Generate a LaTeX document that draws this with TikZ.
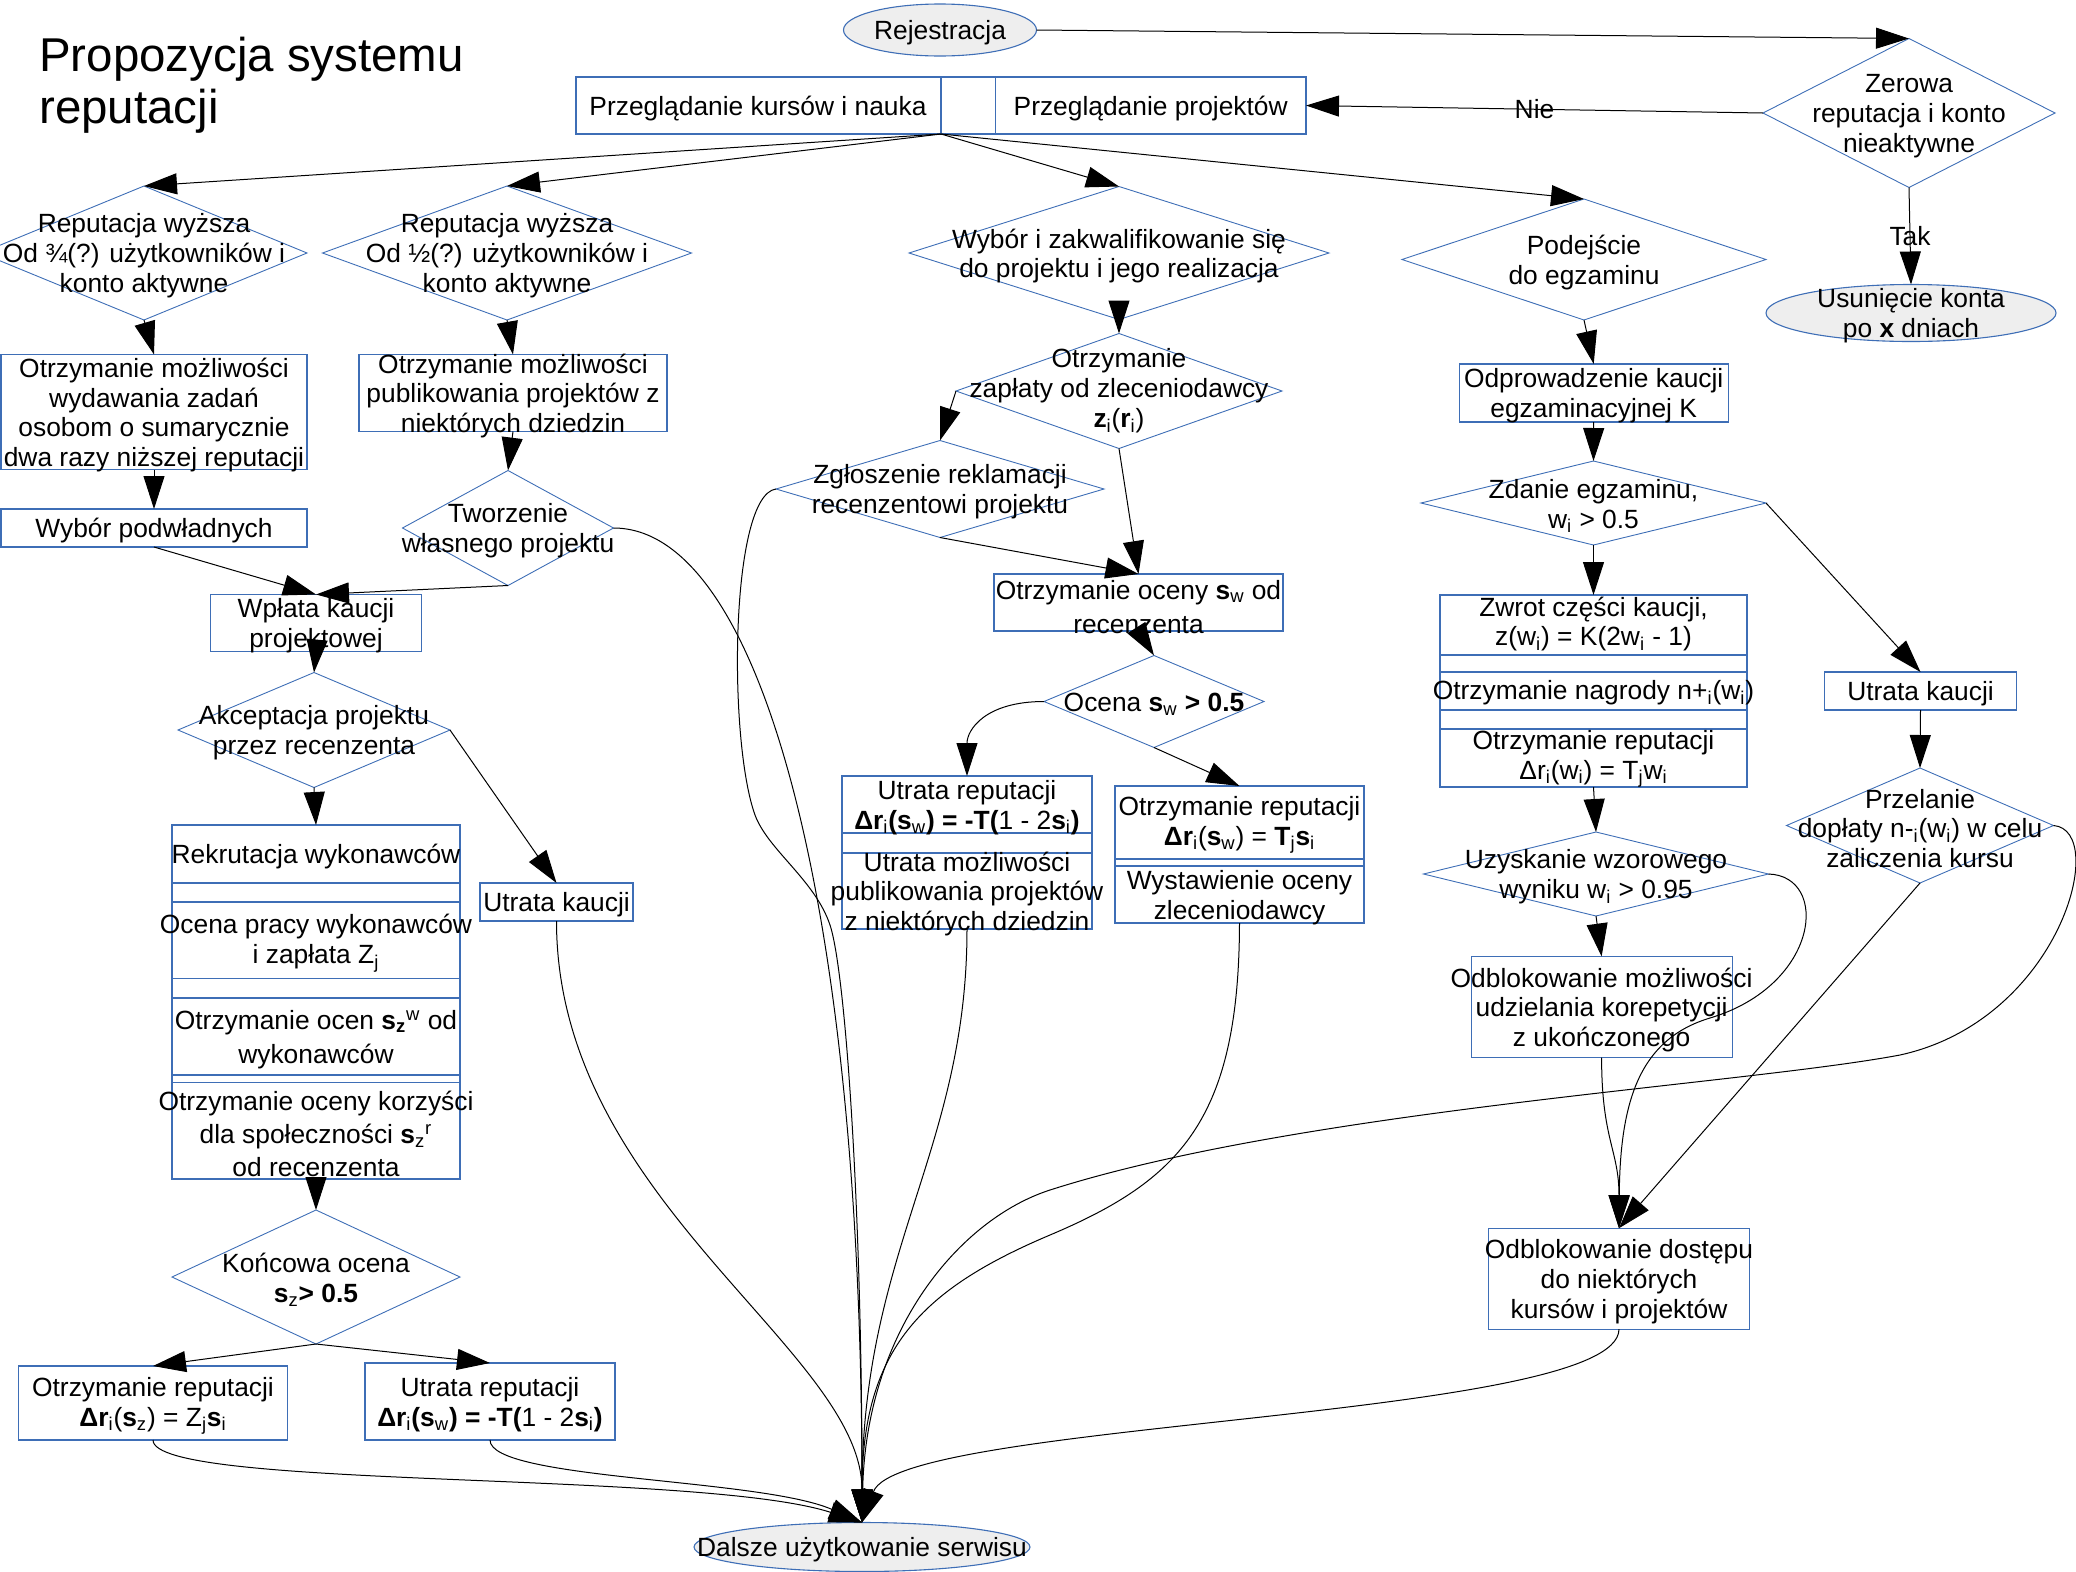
\documentclass[tikz,border=0pt]{standalone}
\usepackage{fontspec}
\setmainfont{Liberation Sans}
\usetikzlibrary{shapes.geometric,arrows.meta}

\definecolor{shapeblue}{RGB}{62,110,182}
\definecolor{termgray}{RGB}{238,238,238}

\newcommand{\lo}[1]{\textsubscript{#1}}
\newcommand{\hi}[1]{\textsuperscript{#1}}

\tikzset{
  wh/.style 2 args={minimum width=#1*0.2mm, minimum height=#2*0.2mm},
  box/.style={draw=shapeblue, line width=0.22mm, rectangle, inner sep=0pt, outer sep=0pt},
  choice/.style={draw=shapeblue, line width=0.18mm, diamond, inner sep=0pt, outer sep=0pt},
  oval/.style={draw=shapeblue, line width=0.22mm, fill=termgray, ellipse, inner sep=0pt, outer sep=0pt},
  rowline/.style={draw=shapeblue, line width=0.22mm},
  txt/.style={align=center, inner sep=0pt, yshift=-0.6mm},
  note/.style={inner sep=0pt},
  flow/.style={line width=0.2mm, -{Triangle[length=6.6mm, width=4.2mm]}}
}

\begin{document}
\fontsize{15}{17}\selectfont
\begin{tikzpicture}[x=0.2mm, y=-0.2mm]
  \useasboundingbox (0,0) rectangle (2076,1572);

  % Title
  \node[anchor=north west, align=left, inner sep=0pt, font=\fontsize{27}{29.6}\selectfont] (title) at (39,37) {Propozycja systemu\\reputacji};

  % Registration and the top bar
  \node[oval, wh={193}{52}] (rej) at (940,30) {};
  \node[txt] (rejt) at (rej) {Rejestracja};
  \node[box, wh={730}{57}] (bar) at (941,105.5) {};
  \draw[rowline] (bar.north) -- (bar.south);
  \draw[rowline] (995.5,77) -- (995.5,134);
  \node[txt] (kursy) at (758,105.5) {Przeglądanie kursów i nauka};
  \node[txt] (projekty) at (1150.7,105.5) {Przeglądanie projektów};

  % Account check
  \node[choice, wh={292}{149}] (zero) at (1909,113) {};
  \node[txt] (zerot) at (zero) {Zerowa\\reputacja i konto\\nieaktywne};
  \node[oval, wh={290}{57}] (usun) at (1911,313) {};
  \node[txt] (usunt) at (usun) {Usunięcie konta\\po \textbf{x} dniach};

  % Left branch: tasks and own projects
  \node[choice, wh={326}{134}] (rep34) at (144,253) {};
  \node[txt] (rep34t) at (rep34) {Reputacja wyższa\\Od ¾(?) użytkowników i\\konto aktywne};
  \node[choice, wh={369}{134}] (rep12) at (507,253) {};
  \node[txt] (rep12t) at (rep12) {Reputacja wyższa\\Od ½(?) użytkowników i\\konto aktywne};
  \node[box, wh={306}{115}] (zadania) at (154,412) {};
  \node[txt] (zadaniat) at (zadania) {Otrzymanie możliwości\\wydawania zadań\\osobom o sumarycznie\\dwa razy niższej reputacji};
  \node[box, wh={308}{77}] (publik) at (513,393) {};
  \node[txt] (publikt) at (publik) {Otrzymanie możliwości\\publikowania projektów z\\niektórych dziedzin};
  \node[box, wh={306}{38}] (podwl) at (154,528) {};
  \node[txt] (podwlt) at (podwl) {Wybór podwładnych};
  \node[choice, wh={211}{115}] (tworz) at (508,528) {};
  \node[txt] (tworzt) at (tworz) {Tworzenie\\własnego projektu};
  \node[box, wh={211}{57}] (kaucja) at (316,623) {};
  \node[txt] (kaucjat) at (kaucja) {Wpłata kaucji\\projektowej};
  \node[choice, wh={272}{115}] (akcept) at (314,730) {};
  \node[txt] (akceptt) at (akcept) {Akceptacja projektu\\przez recenzenta};
  \node[box, wh={153}{38}] (utrk1) at (556.5,902) {};
  \node[txt] (utrk1t) at (utrk1) {Utrata kaucji};

  % Project work, several rows in one box
  \node[box, wh={288}{354}] (rekrut) at (316,1002) {};
  \draw[rowline] (rekrut.west |- 0,883) -- (rekrut.east |- 0,883);
  \draw[rowline] (rekrut.west |- 0,902) -- (rekrut.east |- 0,902);
  \draw[rowline] (rekrut.west |- 0,978.6) -- (rekrut.east |- 0,978.6);
  \draw[rowline] (rekrut.west |- 0,998) -- (rekrut.east |- 0,998);
  \draw[rowline] (rekrut.west |- 0,1075) -- (rekrut.east |- 0,1075);
  \draw[rowline] (rekrut.west |- 0,1082.5) -- (rekrut.east |- 0,1082.5);
  \node[txt] (rekrut1) at (316,854) {Rekrutacja wykonawców};
  \node[txt] (rekrut2) at (316,940) {Ocena pracy wykonawców\\i zapłata Z\lo{j}};
  \node[txt, font=\fontsize{15}{19.5}\selectfont] (rekrut3) at (316,1036.5) {Otrzymanie ocen \textbf{s}\lo{\textbf{z}}\hi{w} od\\wykonawców};
  \node[txt, font=\fontsize{15}{18.8}\selectfont] (rekrut4) at (316,1131) {Otrzymanie oceny korzyści\\dla społeczności \textbf{s}\lo{z}\hi{r}\\od recenzenta};

  \node[choice, wh={288}{134}] (koncowa) at (316,1277) {};
  \node[txt] (koncowat) at (koncowa) {Końcowa ocena\\\textbf{s}\lo{z}\textbf{> 0.5}};
  \node[box, wh={269}{74}] (repplus) at (153,1403) {};
  \node[txt] (repplust) at (repplus) {Otrzymanie reputacji\\\textbf{Δr}\lo{i}(\textbf{s}\lo{z}) = Z\lo{j}\textbf{s}\lo{i}};
  \node[box, wh={250}{77}] (repminus) at (490,1401.5) {};
  \node[txt] (repminust) at (repminus) {Utrata reputacji\\\textbf{Δr}\lo{i}\textbf{(s}\lo{w}\textbf{) = -T(}1 - 2\textbf{s}\lo{i}\textbf{)}};

  % Middle branch: projects of others
  \node[choice, wh={420}{133}] (wybor) at (1119,253) {};
  \node[txt] (wybort) at (wybor) {Wybór i zakwalifikowanie się\\do projektu i jego realizacja};
  \node[choice, wh={326}{115}] (zaplata) at (1119,391) {};
  \node[txt] (zaplatat) at (1119,388) {Otrzymanie\\zapłaty od zleceniodawcy\\\textbf{z}\lo{i}(\textbf{r}\lo{i})};
  \node[choice, wh={328}{97}] (reklam) at (940,489) {};
  \node[txt] (reklamt) at (reklam) {Zgłoszenie reklamacji\\recenzentowi projektu};
  \node[box, wh={289}{57}] (ocenarec) at (1138.5,602.5) {};
  \node[txt, font=\fontsize{15}{19.8}\selectfont] (ocenarect) at (1138.5,604) {Otrzymanie oceny \textbf{s}\lo{w} od\\recenzenta};
  \node[choice, wh={220}{92}] (ocenasw) at (1154,701.5) {};
  \node[txt] (ocenaswt) at (ocenasw) {Ocena \textbf{s}\lo{w} \textbf{> 0.5}};

  \node[box, wh={250}{153}] (utrrep) at (967,852.5) {};
  \draw[rowline] (utrrep.west |- 0,833) -- (utrrep.east |- 0,833);
  \draw[rowline] (utrrep.west |- 0,853) -- (utrrep.east |- 0,853);
  \node[txt] (utrrep1) at (967,804.5) {Utrata reputacji\\\textbf{Δr}\lo{i}\textbf{(s}\lo{w}\textbf{) = -T(}1 - 2\textbf{s}\lo{i}\textbf{)}};
  \node[txt] (utrrep2) at (967,891) {Utrata możliwości\\publikowania projektów\\z niektórych dziedzin};

  \node[box, wh={249}{137}] (otrrep) at (1239.5,854.5) {};
  \draw[rowline] (otrrep.west |- 0,859) -- (otrrep.east |- 0,859);
  \draw[rowline] (otrrep.west |- 0,866) -- (otrrep.east |- 0,866);
  \node[txt] (otrrep1) at (1239.5,822) {Otrzymanie reputacji\\\textbf{Δr}\lo{i}(\textbf{s}\lo{w}) = \textbf{T}\lo{j}\textbf{s}\lo{i}};
  \node[txt] (otrrep2) at (1239.5,895) {Wystawienie oceny\\zleceniodawcy};

  % Right branch: exams
  \node[choice, wh={364}{121}] (podej) at (1584,259.5) {};
  \node[txt] (podejt) at (podej) {Podejście\\do egzaminu};
  \node[box, wh={269}{58}] (odprow) at (1593.7,393) {};
  \node[txt] (odprowt) at (odprow) {Odprowadzenie kaucji\\egzaminacyjnej K};
  \node[choice, wh={345}{84}] (zdanie) at (1593.5,503) {};
  \node[txt] (zdaniet) at (zdanie) {Zdanie egzaminu,\\w\lo{i} > 0.5};

  \node[box, wh={307}{192}] (zwrot) at (1593.5,691) {};
  \draw[rowline] (zwrot.west |- 0,655) -- (zwrot.east |- 0,655);
  \draw[rowline] (zwrot.west |- 0,672) -- (zwrot.east |- 0,672);
  \draw[rowline] (zwrot.west |- 0,710) -- (zwrot.east |- 0,710);
  \draw[rowline] (zwrot.west |- 0,729) -- (zwrot.east |- 0,729);
  \node[txt] (zwrot1) at (1593.5,621) {Zwrot części kaucji,\\z(w\lo{i}) = K(2w\lo{i} - 1)};
  \node[txt] (zwrot2) at (1593.5,690) {Otrzymanie nagrody n+\lo{i}(w\lo{i})};
  \node[txt] (zwrot3) at (1593.5,756) {Otrzymanie reputacji\\Δr\lo{i}(w\lo{i}) = T\lo{j}w\lo{i}};

  \node[box, wh={192}{38}] (utrk2) at (1920.5,691) {};
  \node[txt] (utrk2t) at (utrk2) {Utrata kaucji};
  \node[choice, wh={267}{115}] (przel) at (1920,825.5) {};
  \node[txt] (przelt) at (przel) {Przelanie\\dopłaty n-\lo{i}(w\lo{i}) w celu\\zaliczenia kursu};
  \node[choice, wh={345}{84}] (wzor) at (1596,874) {};
  \node[txt] (wzort) at (wzor) {Uzyskanie wzorowego\\wyniku w\lo{i} > 0.95};
  \node[box, wh={261}{101}] (korep) at (1601.6,1007) {};
  \node[txt] (korept) at (korep) {Odblokowanie możliwości\\udzielania korepetycji\\z ukończonego};
  \node[box, wh={261}{101}] (dostep) at (1619,1278.7) {};
  \node[txt] (dostept) at (dostep) {Odblokowanie dostępu\\do niektórych\\kursów i projektów};

  % End
  \node[oval, wh={336}{49}] (dalsze) at (862,1547) {};
  \node[txt] (dalszet) at (dalsze) {Dalsze użytkowanie serwisu};

  % Connectors at the top
  \draw[flow] (rej.east) -- (zero.north);
  \draw[flow] (zero.west) -- node[note] (nie) {Nie} (bar.east);
  \draw[flow] (zero.south) -- node[note] (tak) {Tak} (usun.north);
  \draw[flow] (bar.south) -- (rep34.north);
  \draw[flow] (bar.south) -- (rep12.north);
  \draw[flow] (bar.south) -- (wybor.north);
  \draw[flow] (bar.south) -- (podej.north);

  % Connectors on the left
  \draw[flow] (rep34.south) -- (zadania.north);
  \draw[flow] (zadania.south) -- (podwl.north);
  \draw[flow] (podwl.south) -- (kaucja.north);
  \draw[flow] (rep12.south) -- (publik.north);
  \draw[flow] (publik.south) -- (tworz.north);
  \draw[flow] (tworz.south) -- (kaucja.north);
  \draw[flow] (kaucja.south) -- (akcept.north);
  \draw[flow] (akcept.south) -- (rekrut.north);
  \draw[flow] (akcept.east) -- (utrk1.north);
  \draw[flow] (rekrut.south) -- (koncowa.north);
  \draw[flow] (koncowa.south) -- (repplus.north);
  \draw[flow] (koncowa.south) -- (repminus.north);

  % Connectors in the middle
  \draw[flow] (wybor.south) -- (zaplata.north);
  \draw[flow] (zaplata.west) -- (reklam.north);
  \draw[flow] (zaplata.south) -- (ocenarec.north);
  \draw[flow] (reklam.south) -- (ocenarec.north);
  \draw[flow] (ocenarec.south) -- (ocenasw.north);
  \draw[flow] (ocenasw.west) .. controls (985,701.5) and (967,730) .. (utrrep.north);
  \draw[flow] (ocenasw.south) -- (otrrep.north);

  % Connectors on the right
  \draw[flow] (podej.south) -- (odprow.north);
  \draw[flow] (odprow.south) -- (zdanie.north);
  \draw[flow] (zdanie.south) -- (zwrot.north);
  \draw[flow] (zdanie.east) -- (utrk2.north);
  \draw[flow] (zwrot.south) -- (wzor.north);
  \draw[flow] (wzor.south) -- (korep.north);
  \draw[flow] (utrk2.south) -- (przel.north);
  \draw[flow] (przel.south) -- (dostep.north);
  \draw[flow] (wzor.east) .. controls (1830,876) and (1820,985) .. (1710,1018) .. controls (1640,1039) and (1620,1100) .. (dostep.north);
  \draw[flow] (korep.south) .. controls (1601.6,1140) and (1619,1150) .. (dostep.north);

  % Everything ends in the same place
  \draw[flow] (tworz.east) .. controls (760,528) and (862,900) .. (dalsze.north);
  \draw[flow] (reklam.west) .. controls (730,495) and (728,740) .. (755,815) .. controls (768,850) and (815,880) .. (830,925) .. controls (845,970) and (862,1200) .. (dalsze.north);
  \draw[flow] (utrk1.south) .. controls (556.5,1200) and (862,1350) .. (dalsze.north);
  \draw[flow] (utrrep.south) .. controls (967,1150) and (862,1250) .. (dalsze.north);
  \draw[flow] (otrrep.south) .. controls (1239,1120) and (1180,1180) .. (1050,1235) .. controls (920,1290) and (862,1350) .. (dalsze.north);
  \draw[flow] (przel.east) .. controls (2110,830) and (2060,1020) .. (1900,1055) .. controls (1740,1085) and (1300,1110) .. (1050,1190) .. controls (960,1219) and (866,1330) .. (dalsze.north);
  \draw[flow] (dostep.south) .. controls (1618.5,1420) and (900,1420) .. (dalsze.north);
  \draw[flow] (repplus.south) .. controls (153,1490) and (700,1470) .. (dalsze.north);
  \draw[flow] (repminus.south) .. controls (490,1480) and (760,1478) .. (dalsze.north);
\end{tikzpicture}
\end{document}
